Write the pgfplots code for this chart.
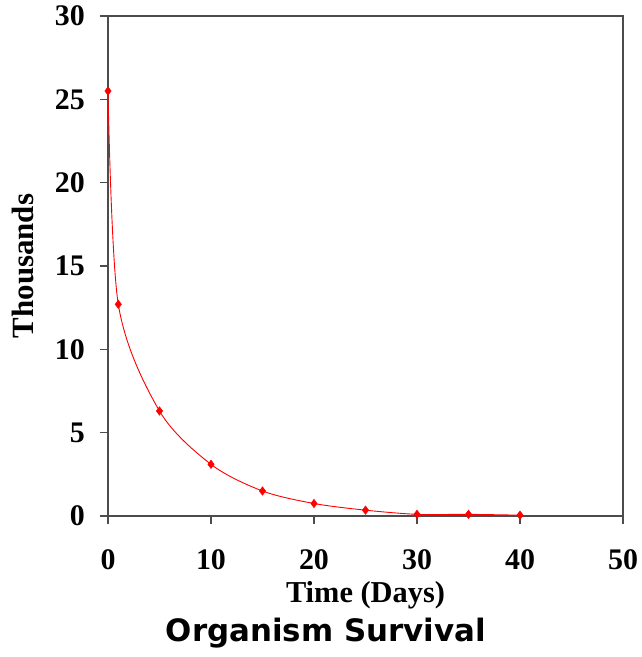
\documentclass[border=0pt]{standalone}
\usepackage{fontspec}
\setmainfont{Liberation Serif}
\newfontfamily\titlefont{DejaVu Sans}
\usepackage{pgfplots}
\pgfplotsset{compat=1.18}
\begin{document}
\begin{tikzpicture}
\useasboundingbox (-108bp,-141bp) rectangle (534bp,516bp);
\begin{axis}[
  at={(0,0)}, anchor=south west,
  scale only axis, width=515bp, height=500bp,
  xmin=0, xmax=50, ymin=0, ymax=30,
  xtick={0,10,...,50}, ytick={0,5,...,30},
  tick align=outside, major tick length=8bp,
  xtick pos=bottom, ytick pos=left,
  axis line style={black!70, line width=1.2bp},
  tick style={black!70, line width=1.2bp},
  /pgf/number format/assume math mode=true,
  ticklabel style={font=\fontsize{30}{32}\selectfont\bfseries, inner sep=0pt},
  yticklabel style={anchor=east, xshift=-15bp},
  xticklabel style={anchor=north, yshift=-25bp},
  xlabel={Time (Days)},
  xlabel style={at={(axis description cs:0.5,-0.172)}, anchor=base, font=\fontsize{30.5}{32}\selectfont\bfseries, inner sep=0pt},
  ylabel={Thousands},
  ylabel style={at={(axis description cs:-0.1456,0.5)}, rotate=0, anchor=base, font=\fontsize{31}{33}\selectfont\bfseries, inner sep=0pt},
  title={Organism Survival},
  title style={at={(axis description cs:0.4233,-0.262)}, anchor=base, font=\titlefont\fontsize{31}{33}\selectfont\bfseries, inner sep=0pt},
]
\addplot[red, line width=0.9bp, smooth, tension=0.5, mark=diamond*, mark size=4.2bp, mark options={fill=red, draw=red, line width=0.5bp}]
coordinates {(0,25.5) (1,12.7) (5,6.3) (10,3.1) (15,1.5) (20,0.75) (25,0.35) (30,0.1) (35,0.1) (40,0.05)};
\end{axis}
\end{tikzpicture}
\end{document}
